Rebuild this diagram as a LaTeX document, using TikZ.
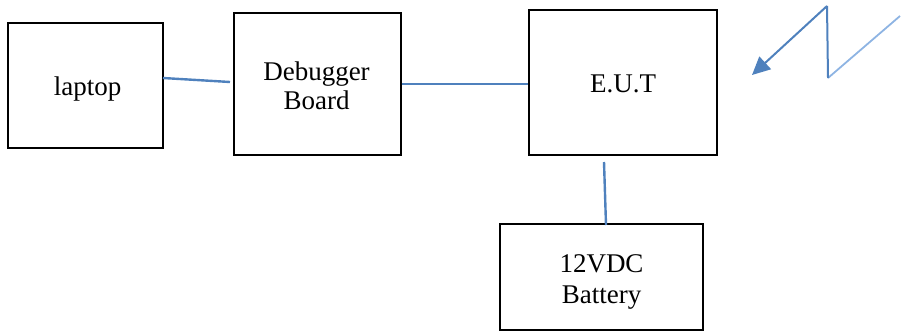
\documentclass[tikz,border=0pt]{standalone}
\usepackage{fontspec}
\setmainfont{Liberation Serif}
\usetikzlibrary{arrows.meta}
\definecolor{lineblue}{HTML}{4F81BD}
\definecolor{lightblue}{HTML}{8EB4E3}
\begin{document}
\begin{tikzpicture}[x=1pt,y=-1pt,
  blk/.style={draw=black,line width=1.4pt,inner sep=0pt},
  txt/.style={anchor=base,inner sep=0pt,font=\fontsize{27}{30}\selectfont},
  conn/.style={draw=lineblue,line width=2.4pt}]
\useasboundingbox (0,0) rectangle (901,332);
\node[blk,minimum width=155,minimum height=125] (laptop) at (85.5,85.5) {};
\node[blk,minimum width=167,minimum height=142] (debug) at (317.5,84) {};
\node[blk,minimum width=188,minimum height=145] (eut) at (623,82.5) {};
\node[blk,minimum width=203,minimum height=106] (batt) at (601.5,277) {};
\node[txt] (laptopT) at (87.5,95) {laptop};
\node[txt] (debugT1) at (316.5,80) {Debugger};
\node[txt] (debugT2) at (316.5,109) {Board};
\node[txt] (eutT) at (623,92) {E.U.T};
\node[txt] (battT1) at (601.5,272) {12VDC};
\node[txt] (battT2) at (601.5,303) {Battery};
\coordinate (l1) at (163,78);
\coordinate (l2) at (230,82);
\draw[conn] (l1) -- (l2);
\draw[conn] (debug.east |- 0,84) -- (eut.west |- 0,84);
\coordinate (v1) at (604,162);
\coordinate (v2) at (606,225);
\draw[conn] (v1) -- (v2);
\coordinate (z0) at (900,16);
\coordinate (z1) at (828,78);
\coordinate (z2) at (827,6);
\coordinate (z3) at (752,75);
\draw[lightblue,line width=1.8pt] (z0) -- (z1);
\draw[lineblue,line width=2pt] (z1) -- (z2);
\draw[lineblue,line width=2pt,-{Triangle[length=18pt,width=17pt]}] (z2) -- (z3);
\end{tikzpicture}
\end{document}
